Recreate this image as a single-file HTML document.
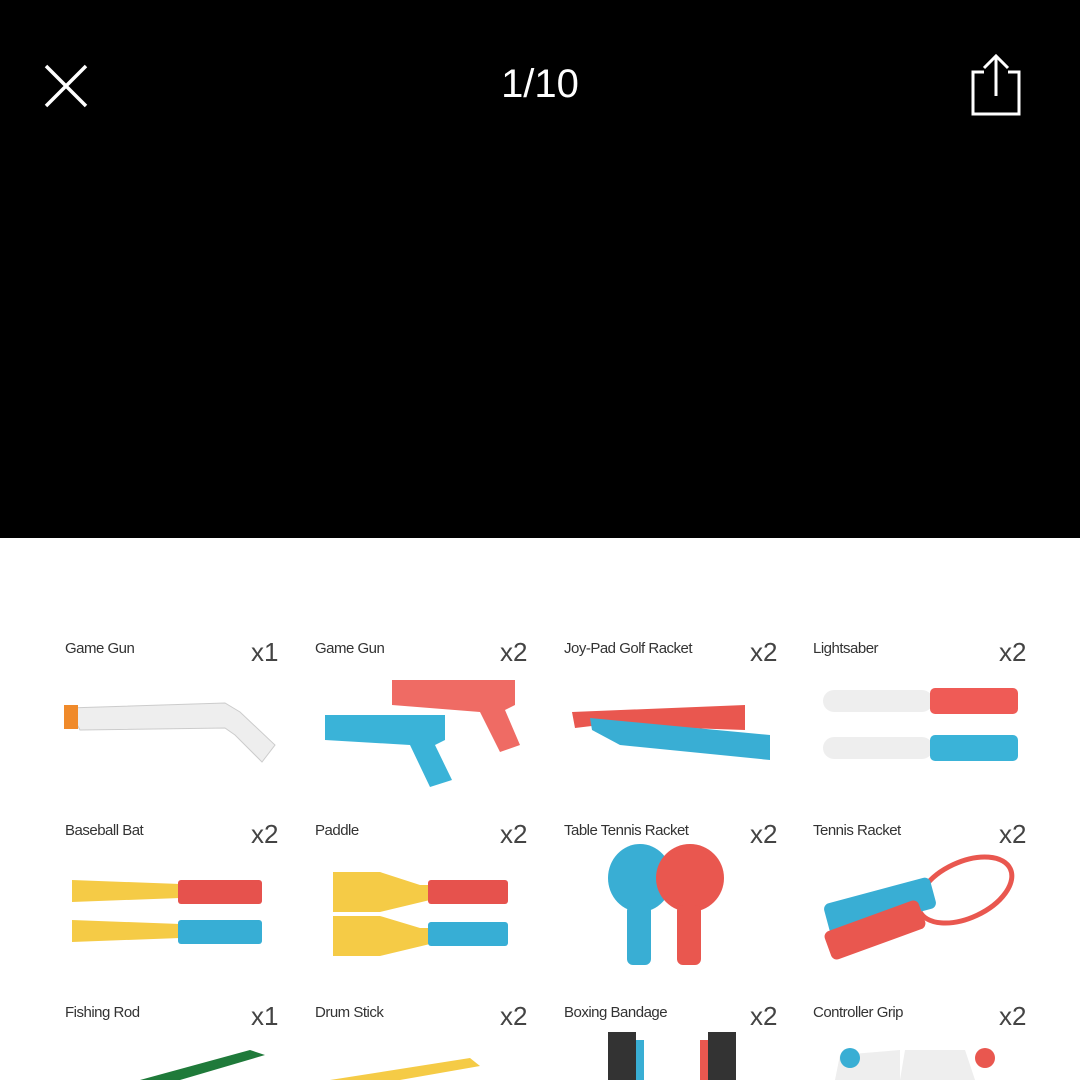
<!DOCTYPE html>
<html><head><meta charset="utf-8"><style>
body{margin:0;width:1080px;height:1080px;overflow:hidden;background:#fff;font-family:"Liberation Sans",sans-serif;position:relative}
.top{position:absolute;left:0;top:0;width:1080px;height:538px;background:#000}
.cnt{position:absolute;top:62px;left:0;width:1080px;text-align:center;color:#fff;font-size:40px}
.l{position:absolute;font-size:15px;color:#333;letter-spacing:-0.5px}
.q{position:absolute;font-size:26px;color:#444}
svg{position:absolute;left:0;top:0}
</style></head><body>
<div class="top"></div>
<svg width="1080" height="538">
<path d="M46 66 L86 106 M86 66 L46 106" stroke="#fff" stroke-width="3.5"/>
<path d="M984 72 L973 72 L973 114 L1019 114 L1019 72 L1008 72 M996 96 L996 56 M984 68 L996 56 L1008 68" stroke="#fff" stroke-width="3" fill="none"/>
</svg>
<div class="cnt">1/10</div>

<div class="l" style="left:65px;top:640px">Game Gun</div><div class="q" style="left:251px;top:637px">x1</div>
<div class="l" style="left:315px;top:640px">Game Gun</div><div class="q" style="left:500px;top:637px">x2</div>
<div class="l" style="left:564px;top:640px">Joy-Pad Golf Racket</div><div class="q" style="left:750px;top:637px">x2</div>
<div class="l" style="left:813px;top:640px">Lightsaber</div><div class="q" style="left:999px;top:637px">x2</div>
<div class="l" style="left:65px;top:822px">Baseball Bat</div><div class="q" style="left:251px;top:819px">x2</div>
<div class="l" style="left:315px;top:822px">Paddle</div><div class="q" style="left:500px;top:819px">x2</div>
<div class="l" style="left:564px;top:822px">Table Tennis Racket</div><div class="q" style="left:750px;top:819px">x2</div>
<div class="l" style="left:813px;top:822px">Tennis Racket</div><div class="q" style="left:999px;top:819px">x2</div>
<div class="l" style="left:65px;top:1004px">Fishing Rod</div><div class="q" style="left:251px;top:1001px">x1</div>
<div class="l" style="left:315px;top:1004px">Drum Stick</div><div class="q" style="left:500px;top:1001px">x2</div>
<div class="l" style="left:564px;top:1004px">Boxing Bandage</div><div class="q" style="left:750px;top:1001px">x2</div>
<div class="l" style="left:813px;top:1004px">Controller Grip</div><div class="q" style="left:999px;top:1001px">x2</div>

<svg width="1080" height="1080">
<!-- game gun 1 -->
<path d="M68 708 L225 703 L240 712 L275 745 L262 762 L235 735 L225 728 L80 730 Z" fill="#eee" stroke="#ccc"/>
<rect x="64" y="705" width="14" height="24" fill="#f08a2a"/>
<!-- game gun 2 -->
<path d="M392 680 L515 680 L515 705 L505 710 L520 745 L500 752 L480 712 L392 705Z" fill="#ef6b64"/>
<path d="M325 715 L445 715 L445 740 L435 745 L452 780 L430 787 L410 745 L325 740Z" fill="#3ab3d8"/>
<!-- golf -->
<path d="M572 712 L745 705 L745 730 L600 725 L575 728Z" fill="#e9574f"/>
<path d="M590 718 L770 735 L770 760 L620 745 L592 730Z" fill="#39aed4"/>
<!-- lightsaber -->
<rect x="823" y="690" width="110" height="22" rx="11" fill="#eee"/><rect x="930" y="688" width="88" height="26" rx="5" fill="#ef5b56"/>
<rect x="823" y="737" width="110" height="22" rx="11" fill="#eee"/><rect x="930" y="735" width="88" height="26" rx="5" fill="#3ab3d8"/>
<!-- bats -->
<path d="M72 880 L180 884 L180 898 L72 902Z" fill="#f5cb46"/><rect x="178" y="880" width="84" height="24" rx="3" fill="#e6524d"/>
<path d="M72 920 L180 924 L180 938 L72 942Z" fill="#f5cb46"/><rect x="178" y="920" width="84" height="24" rx="3" fill="#37aed5"/>
<!-- paddles -->
<path d="M333 872 L380 872 L420 885 L430 885 L430 900 L380 912 L333 912Z" fill="#f5cb46"/><rect x="428" y="880" width="80" height="24" rx="3" fill="#e6524d"/>
<path d="M333 916 L380 916 L420 928 L430 928 L430 944 L380 956 L333 956Z" fill="#f5cb46"/><rect x="428" y="922" width="80" height="24" rx="3" fill="#37aed5"/>
<!-- table tennis -->
<ellipse cx="640" cy="878" rx="32" ry="34" fill="#39aed4"/><rect x="627" y="905" width="24" height="60" rx="6" fill="#39aed4"/>
<ellipse cx="690" cy="878" rx="34" ry="34" fill="#e9574f"/><rect x="677" y="905" width="24" height="60" rx="6" fill="#e9574f"/>
<!-- tennis -->
<ellipse cx="965" cy="890" rx="50" ry="28" fill="none" stroke="#e9574f" stroke-width="5" transform="rotate(-25 965 890)"/>
<rect x="825" y="890" width="110" height="32" rx="6" fill="#39aed4" transform="rotate(-15 880 906)"/>
<rect x="825" y="915" width="100" height="30" rx="6" fill="#e9574f" transform="rotate(-20 875 930)"/>
<!-- bottom row partial -->
<path d="M140 1080 L250 1050 L265 1055 L180 1080Z" fill="#1f7a3a"/>
<path d="M330 1080 L470 1058 L480 1066 L400 1080Z" fill="#f5cb46"/>
<rect x="608" y="1032" width="28" height="48" fill="#333"/><rect x="636" y="1040" width="8" height="40" fill="#39aed4"/>
<rect x="708" y="1032" width="28" height="48" fill="#333"/><rect x="700" y="1040" width="8" height="40" fill="#e9574f"/>
<path d="M835 1080 L840 1055 L900 1050 L900 1080Z" fill="#eee"/><path d="M900 1080 L905 1050 L965 1050 L975 1080Z" fill="#eee"/>
<circle cx="850" cy="1058" r="10" fill="#39aed4"/><circle cx="985" cy="1058" r="10" fill="#e9574f"/>
</svg>
</body></html>
